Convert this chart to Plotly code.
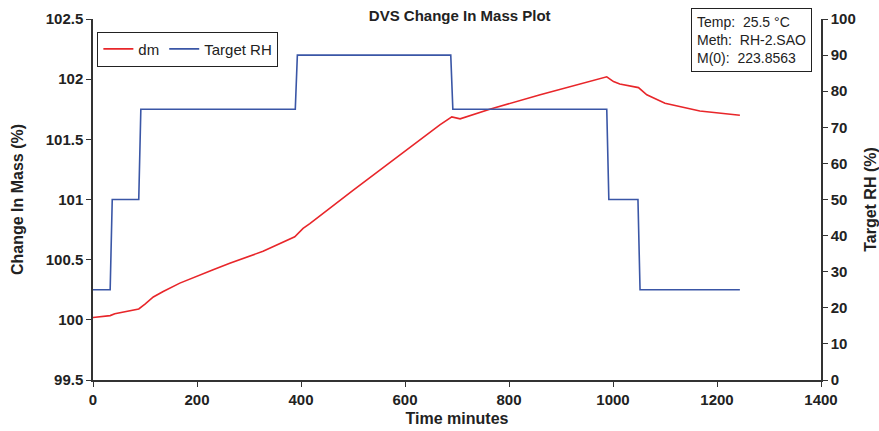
import plotly.graph_objects as go

# Data
rh_time = [0, 33, 37, 88, 92, 389, 393, 688, 692, 988, 992, 1048, 1052, 1244]
rh_val = [25, 25, 50, 50, 75, 75, 90, 90, 75, 75, 50, 50, 25, 25]

dm_time = [0, 33, 42, 88, 100, 116, 135, 167, 231, 263, 327, 388, 404, 417, 500, 600, 667, 690, 706,
           763, 860, 988, 1001, 1013, 1049, 1065, 1100, 1167, 1244]
dm_val = [100.02, 100.035, 100.05, 100.09, 100.13, 100.19, 100.235, 100.305, 100.416, 100.47, 100.57,
          100.69, 100.76, 100.80, 101.075, 101.40, 101.62, 101.686, 101.67, 101.75, 101.87, 102.02,
          101.98, 101.96, 101.93, 101.87, 101.80, 101.735, 101.70]

x_ticks = [0, 200, 400, 600, 800, 1000, 1200, 1400]
left_ticks = [99.5, 100, 100.5, 101, 101.5, 102, 102.5]
right_ticks = [0, 10, 20, 30, 40, 50, 60, 70, 80, 90, 100]

FONT = "Liberation Sans, Arial, sans-serif"
AX = "#333333"
TXT = "#222222"

fig = go.Figure()
fig.add_trace(go.Scatter(x=dm_time, y=dm_val, mode="lines", name="dm",
                         line=dict(color="#e8262a", width=1.6)))
fig.add_trace(go.Scatter(x=rh_time, y=rh_val, mode="lines", name="Target RH", yaxis="y2",
                         line=dict(color="#3a56a6", width=1.6)))

fig.update_layout(
    width=879, height=431,
    margin=dict(l=93, r=58, t=19, b=51),
    paper_bgcolor="white", plot_bgcolor="white",
    font=dict(family=FONT, color=TXT),
    title=dict(text="<b>DVS Change In Mass Plot</b>", x=0.523, xanchor="center",
               y=0.975, yanchor="top", font=dict(size=15, family=FONT, color=TXT)),
    showlegend=True,
    legend=dict(orientation="h", x=0.006, y=0.965, xanchor="left", yanchor="top",
                bordercolor=TXT, borderwidth=1, bgcolor="white",
                font=dict(size=15, family=FONT, color=TXT),
                itemwidth=30, tracegroupgap=0),
    xaxis=dict(range=[0, 1400], tickvals=x_ticks,
               ticktext=["<b>%d</b>" % v for v in x_ticks],
               ticks="outside", ticklen=5, automargin=False,
               tickcolor=AX, showline=True, linecolor=AX, linewidth=1.5,
               showgrid=False, zeroline=False,
               tickfont=dict(size=15, family=FONT, color=TXT),
               title=dict(text="<b>Time minutes</b>", standoff=6,
                          font=dict(size=16, family=FONT, color=TXT))),
    yaxis=dict(range=[99.5, 102.5], tickvals=left_ticks,
               ticktext=["<b>%g</b>" % v for v in left_ticks],
               ticks="outside", ticklen=5, tickcolor=AX, showline=True, linecolor=AX,
               linewidth=1.5, showgrid=False, zeroline=False, automargin=False,
               tickfont=dict(size=15, family=FONT, color=TXT),
               title=dict(text="<b>Change In Mass (%)</b>", standoff=18,
                          font=dict(size=16, family=FONT, color=TXT))),
    yaxis2=dict(range=[0, 100], tickvals=right_ticks,
                ticktext=["<b>%d</b>" % v for v in right_ticks],
                overlaying="y", side="right", anchor="x", automargin=False,
                ticks="outside", ticklen=5, tickcolor=AX, showline=True, linecolor=AX,
                linewidth=1.5, showgrid=False, zeroline=False,
                tickfont=dict(size=15, family=FONT, color=TXT),
                title=dict(text="<b>Target RH (%)</b>", standoff=14,
                           font=dict(size=16, family=FONT, color=TXT))),
)

fig.add_annotation(
    xref="paper", yref="paper", x=0.988, y=1.03, xanchor="right", yanchor="top",
    text="Temp:\u00a0 25.5 °C<br>Meth:\u00a0 RH-2.SAO<br>M(0):\u00a0 223.8563",
    align="left", showarrow=False, bordercolor=TXT, borderwidth=1,
    borderpad=5, bgcolor="white", font=dict(size=14, family=FONT, color=TXT))

fig.write_html("out.html")
